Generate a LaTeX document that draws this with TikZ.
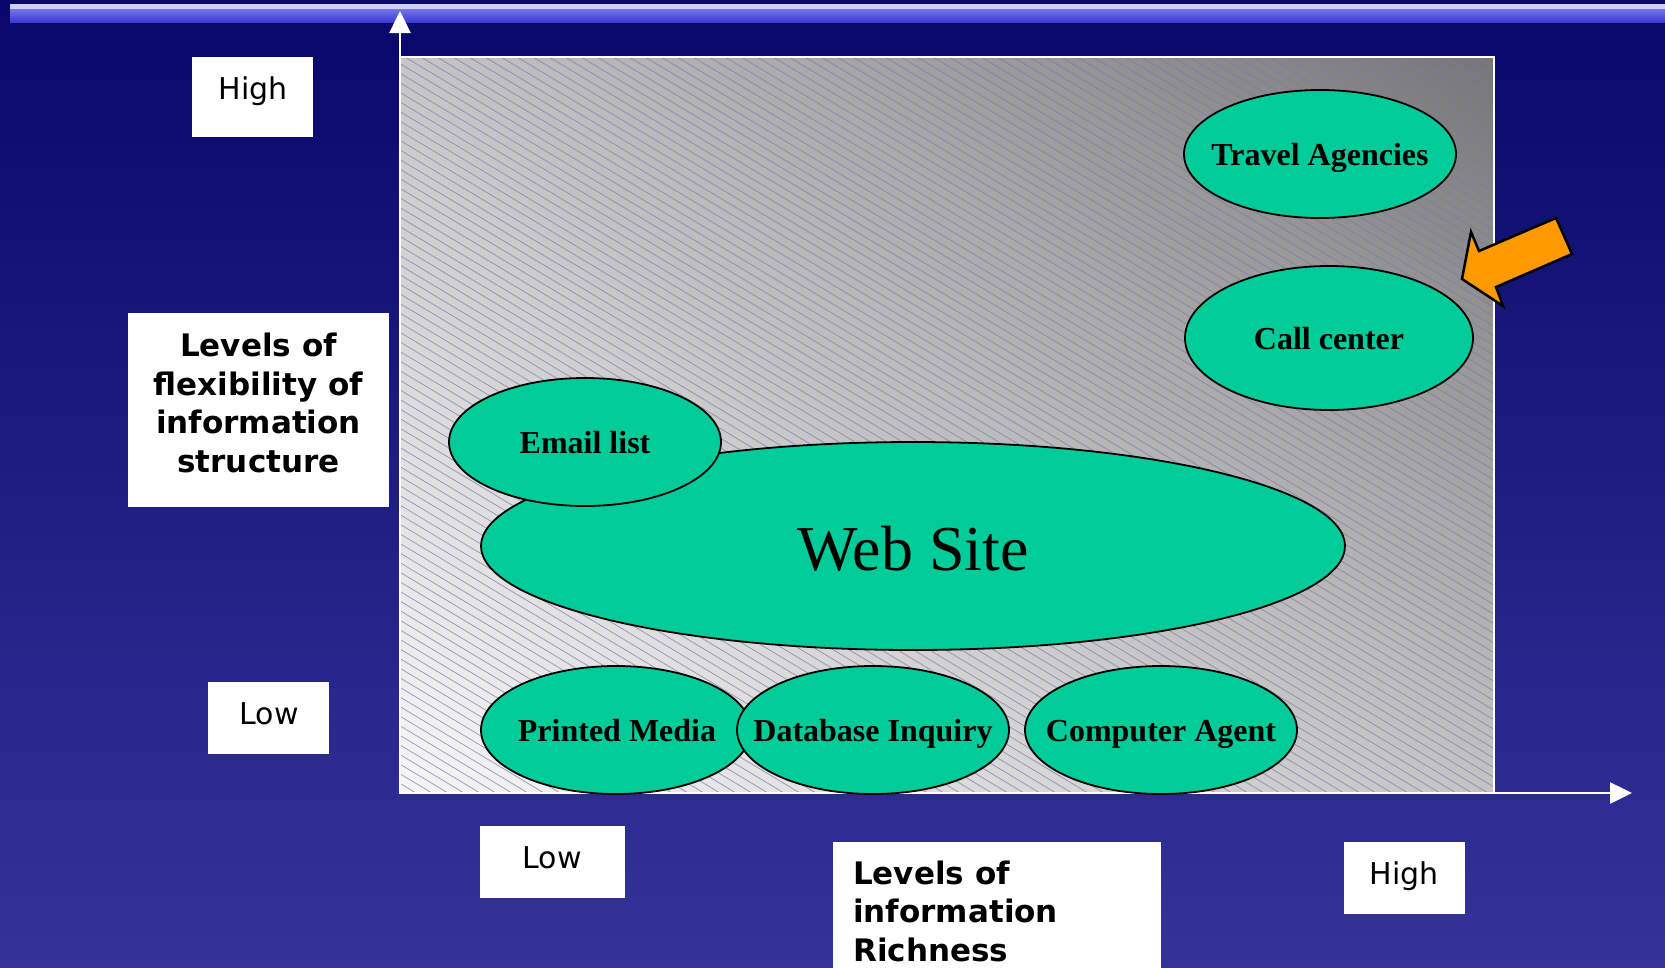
\documentclass[tikz,border=0pt]{standalone}
\usepackage{fontspec}
\usetikzlibrary{shapes.geometric,arrows.meta,shadings}
\newfontfamily\vfont{DejaVu Sans}
\newfontfamily\tfont{Liberation Serif}
\definecolor{bgtop}{HTML}{08086A}
\definecolor{bgbot}{HTML}{33339A}
\definecolor{barlight}{HTML}{D0D0F6}
\definecolor{barblue}{HTML}{3A3ADA}
\definecolor{ellfill}{HTML}{00CC99}
\definecolor{arrfill}{HTML}{FF9900}
\definecolor{hatchc}{HTML}{7A7AB8}
\definecolor{gUL}{HTML}{C6C6C6}
\definecolor{gUR}{HTML}{767676}
\definecolor{gLL}{HTML}{F6F6F6}
\definecolor{gLR}{HTML}{C4C4C4}
\tikzset{
  ell/.style={ellipse, draw=black, line width=1.8pt, fill=ellfill, inner sep=0pt},
  etext/.style={font=\tfont\bfseries\fontsize{32}{36}\selectfont, text=black, inner sep=0pt, text height=21pt, text depth=0pt},
  wbox/.style={draw=none, fill=white, inner sep=0pt},
  wtext/.style={font=\vfont\fontsize{30}{36}\selectfont, text=black, inner sep=0pt},
  btext/.style={font=\vfont\bfseries\fontsize{31}{38.5}\selectfont, text=black, inner sep=0pt},
  axisline/.style={draw=white, line width=2.5pt, -{Triangle[length=22pt,width=21pt]}},
  hatch/.style={draw=hatchc, line width=0.8pt, opacity=0.7},
}
\begin{document}
\begin{tikzpicture}[x=1pt,y=-1pt]
\useasboundingbox (0,0) rectangle (1665,967);
% background
\shade[top color=bgtop, bottom color=bgbot] (0,0) rectangle (1665,967);
% top bar
\shade[top color=barblue!70!white, bottom color=barblue] (10,9) rectangle (1665,22);
\fill[barlight] (10,4) rectangle (1665,9);
% gray panel
\shade[upper left=gUL, upper right=gUR, lower left=gLL, lower right=gLR] (400,57) rectangle (1494,793);
\begin{scope}
\clip (400,57) rectangle (1494,793);
\foreach \k in {0,...,145} {
  \draw[hatch] ({-827+16*\k},57) -- ({-827+16*\k+1227},793);
}
\end{scope}
\draw[white, line width=1.5pt] (400,57) rectangle (1494,793);
% axes
\coordinate (O) at (400,793);
\coordinate (Ytop) at (400,11);
\coordinate (Xend) at (1632,793);
\draw[axisline] (O) -- (Ytop);
\draw[axisline] (O) -- (Xend);
% ellipses
\node[ell, minimum width=272pt, minimum height=128pt] (travel) at (1320,154) {};
\node[etext] (travelt) at (1320,155) {Travel Agencies};
\node[ell, minimum width=288pt, minimum height=144pt] (call) at (1329,338) {};
\node[etext] (callt) at (1329,339) {Call center};
\node[ell, minimum width=864pt, minimum height=208pt] (web) at (913,546) {};
\node[font=\tfont\fontsize{64}{70}\selectfont, inner sep=0pt, text height=43pt, text depth=0pt] (webt) at (913,549) {Web Site};
\node[ell, minimum width=272pt, minimum height=128pt] (email) at (585,442) {};
\node[etext] (emailt) at (585,443) {Email list};
\node[ell, minimum width=270pt, minimum height=128pt] (printed) at (616,730) {};
\node[etext] (printedt) at (617,731) {Printed Media};
\node[ell, minimum width=272pt, minimum height=128pt] (dbase) at (873,730) {};
\node[etext] (dbaset) at (873,731) {Database Inquiry};
\node[ell, minimum width=272pt, minimum height=128pt] (agent) at (1161,730) {};
\node[etext] (agentt) at (1161,731) {Computer Agent};
% orange arrow
\draw[fill=arrfill, draw=black, line width=2.5pt, line join=miter]
  (1462,279) -- (1471,232) -- (1479,251) -- (1556,218) -- (1572,254) -- (1496,287) -- (1503,306) -- cycle;
% label boxes
\node[wbox, minimum width=121pt, minimum height=80pt] (hiYbox) at (252.5,97) {};
\node[wtext] (hiY) at (253,91) {High};
\node[wbox, minimum width=261pt, minimum height=194pt] (flexbox) at (258.5,410) {};
\node[btext, align=center] (flex) at (258.5,403) {Levels of\\flexibility of\\information\\structure};
\node[wbox, minimum width=121pt, minimum height=72pt] (loYbox) at (268.5,718) {};
\node[wtext] (loY) at (269,714) {Low};
\node[wbox, minimum width=145pt, minimum height=72pt] (loXbox) at (552.5,862) {};
\node[wtext] (loX) at (552,858) {Low};
\node[wbox, minimum width=328pt, minimum height=130pt, anchor=north west] (richbox) at (833,842) {};
\node[btext, align=left, anchor=west] (rich) at (853,911) {Levels of\\information\\Richness};
\node[wbox, minimum width=121pt, minimum height=72pt] (hiXbox) at (1404.5,878) {};
\node[wtext] (hiX) at (1404,876) {High};
\end{tikzpicture}
\end{document}
